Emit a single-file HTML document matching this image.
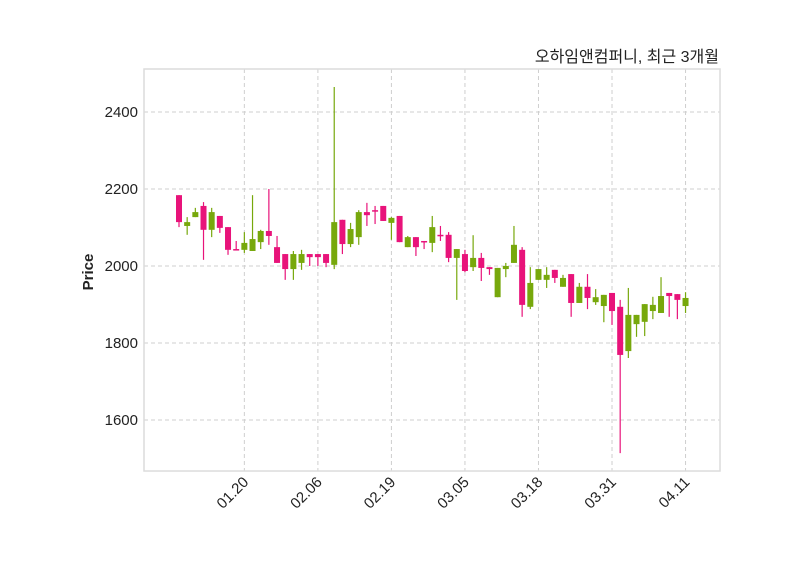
<!DOCTYPE html>
<html><head><meta charset="utf-8">
<style>
html,body{margin:0;padding:0;background:#fff;}
svg{display:block;font-family:"Liberation Sans","Noto Sans CJK KR",sans-serif;}
</style></head>
<body>
<svg id="chart" width="800" height="575" viewBox="0 0 800 575" xmlns="http://www.w3.org/2000/svg">
<rect x="0" y="0" width="800" height="575" fill="#fff"/>
<g id="grid"></g>
<rect x="144" y="69" width="576" height="402" fill="none" stroke="#dcdcdc" stroke-width="1.5"/>
<g id="candles"></g>
<g id="yticks"></g>
<g id="xticks"></g>
<text transform="translate(93,272) rotate(-90)" text-anchor="middle" font-size="15" font-weight="bold" fill="#222">Price</text>
<text x="719" y="62" text-anchor="end" font-size="16" fill="#222">오하임앤컴퍼니, 최근 3개월</text>
</svg>
<script>
const opens  = [2184,2104,2127,2156,2094,2130,2101,2044,2042,2039,2062,2091,2049,2031,1992,2008,2031,2031,2031,2003,2120,2057,2075,2140,2145,2156,2112,2130,2049,2075,2065,2060,2081,2081,2021,2031,1997,2021,1997,1919,1992,2008,2042,1894,1964,1964,1990,1946,1979,1904,1946,1906,1896,1930,1894,1779,1849,1855,1883,1878,1930,1927,1896];
const highs  = [2184,2127,2151,2166,2151,2130,2101,2065,2088,2184,2094,2200,2078,2031,2039,2042,2031,2031,2031,2465,2120,2112,2145,2164,2156,2156,2127,2130,2078,2075,2065,2130,2104,2088,2044,2042,2080,2034,1997,1995,2008,2104,2049,1997,1992,1997,1990,1977,1979,1956,1979,1940,1925,1930,1912,1943,1873,1901,1920,1971,1930,1927,1932];
const lows   = [2101,2081,2127,2016,2075,2086,2029,2042,2034,2039,2044,2055,2008,1964,1964,1990,2000,2000,1997,1992,2031,2049,2055,2104,2109,2117,2068,2062,2049,2026,2044,2036,2065,2010,1912,1984,1987,1961,1977,1919,1971,2008,1868,1888,1964,1943,1956,1946,1868,1904,1888,1899,1854,1847,1514,1761,1816,1818,1862,1878,1868,1862,1878];
const closes = [2114,2114,2140,2094,2140,2099,2042,2042,2060,2070,2091,2078,2008,1992,2031,2031,2023,2023,2008,2114,2057,2096,2140,2132,2143,2117,2125,2062,2075,2049,2062,2101,2078,2021,2044,1987,2021,1995,1992,1995,2000,2055,1899,1956,1992,1977,1969,1969,1904,1946,1917,1919,1925,1883,1769,1873,1873,1901,1899,1922,1922,1912,1917];
const xTickIdx = [8,17,26,35,44,53,62];
const xTickLabels = ["01.20","02.06","02.19","03.05","03.18","03.31","04.11"];
const yTicks = [1600,1800,2000,2200,2400];

const NS="http://www.w3.org/2000/svg";
const X0=179, DX=8.17;
function xs(i){return X0+i*DX;}
function ys(v){return 266-(v-2000)*0.385;}
function mk(tag,attrs,parent){const e=document.createElementNS(NS,tag);for(const k in attrs)e.setAttribute(k,attrs[k]);parent.appendChild(e);return e;}
const grid=document.getElementById('grid'), cg=document.getElementById('candles'), yg=document.getElementById('yticks'), xg=document.getElementById('xticks');
yTicks.forEach(v=>{
  const y=ys(v);
  const l=mk('line',{x1:144,x2:720,y1:y,y2:y,stroke:'#cfcfcf','stroke-dasharray':'4,3'},grid);
  
  
  const t=mk('text',{x:138,y:y+5,'text-anchor':'end','font-size':'15',fill:'#222'},yg);
  t.textContent=v;
  
  
});
xTickIdx.forEach((idx,k)=>{
  const x=xs(idx);
  const l=mk('line',{x1:x,x2:x,y1:69,y2:471,stroke:'#cfcfcf','stroke-dasharray':'4,3'},grid);
  
  
  const t=mk('text',{transform:`translate(${x+5},${483}) rotate(-45)`,'text-anchor':'end','font-size':'15',fill:'#222'},xg);
  t.textContent=xTickLabels[k];
  
  
});
opens.forEach((o,i)=>{
  const c=closes[i], up=c>=o, col=up?'#77a80c':'#e8137a', x=xs(i);
  const w=mk('line',{x1:x,x2:x,y1:ys(highs[i]),y2:ys(lows[i]),stroke:col,'stroke-width':1.2},cg);
  
  
  const top=ys(Math.max(o,c)), h=Math.max(1.5,Math.abs(ys(o)-ys(c)));
  const b=mk('rect',{x:x-3,y:top,width:6,height:h,fill:col},cg);
  
  
});
</script>
</body></html>
